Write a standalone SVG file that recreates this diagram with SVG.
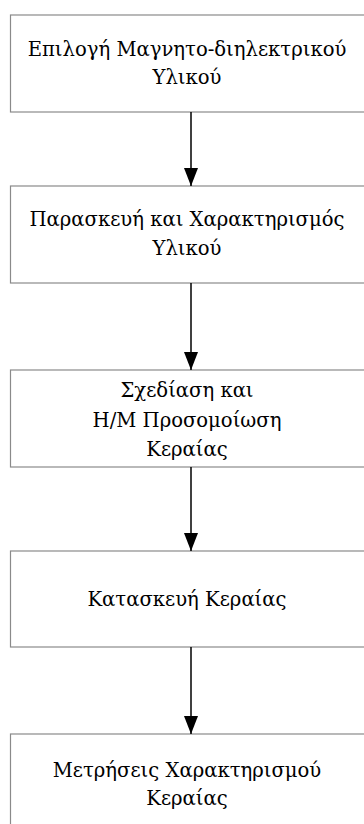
<svg xmlns="http://www.w3.org/2000/svg" width="364" height="824" viewBox="0 0 364 824">
<defs>
<style>
.box{fill:#fff;stroke:#8a8a8a;stroke-width:1.2}
.t{font-family:"DejaVu Serif","Liberation Serif",serif;font-size:19.6px;fill:#000;text-anchor:middle}
.c{stroke:#000;stroke-width:1.5;fill:none}
</style>
<marker id="ah" markerWidth="18" markerHeight="14" refX="18" refY="7" orient="auto" markerUnits="userSpaceOnUse" viewBox="0 0 18 14">
<path d="M0,0 L18,7 L0,14 Z" fill="#000"/>
</marker>
</defs>
<rect width="364" height="824" fill="#fff"/>
<g id="n1"><rect class="box" x="10.5" y="15" width="361" height="97"/>
<text class="t" x="187" y="56">Επιλογή Μαγνητο-διηλεκτρικού</text>
<text class="t" x="187" y="84">Υλικού</text></g>
<g id="n2"><rect class="box" x="10.5" y="186" width="361" height="97"/>
<text class="t" x="187" y="226">Παρασκευή και Χαρακτηρισμός</text>
<text class="t" x="187" y="255">Υλικού</text></g>
<g id="n3"><rect class="box" x="10.5" y="370" width="361" height="97"/>
<text class="t" x="187" y="397">Σχεδίαση και</text>
<text class="t" x="187" y="427">Η/Μ Προσομοίωση</text>
<text class="t" x="187" y="456">Κεραίας</text></g>
<g id="n4"><rect class="box" x="10.5" y="551" width="361" height="96"/>
<text class="t" x="187" y="606">Κατασκευή Κεραίας</text></g>
<g id="n5"><rect class="box" x="10.5" y="734" width="361" height="97"/>
<text class="t" x="187" y="777">Μετρήσεις Χαρακτηρισμού</text>
<text class="t" x="187" y="805">Κεραίας</text></g>
<g id="connectors">
<line class="c" x1="191" y1="112" x2="191" y2="186" marker-end="url(#ah)"/>
<line class="c" x1="191" y1="283" x2="191" y2="370" marker-end="url(#ah)"/>
<line class="c" x1="191" y1="467" x2="191" y2="551" marker-end="url(#ah)"/>
<line class="c" x1="191" y1="647" x2="191" y2="734" marker-end="url(#ah)"/>
</g>
</svg>
